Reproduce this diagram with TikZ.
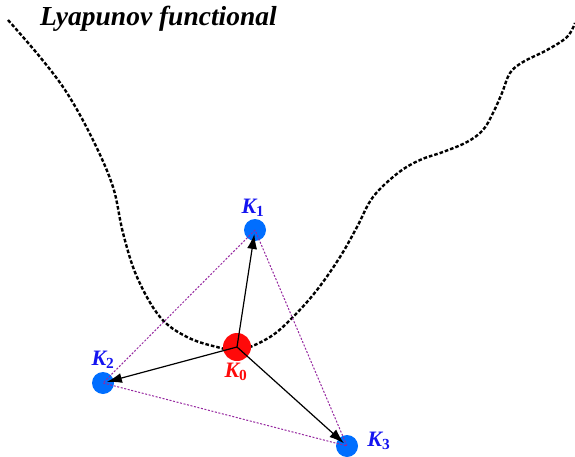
\documentclass[tikz,border=0pt]{standalone}
\usepackage{fontspec}
\setmainfont{Liberation Serif}
\usepackage{xcolor}
\usepackage{tikz}
\usetikzlibrary{positioning, arrows.meta}

\definecolor{dotblue}{RGB}{0,110,255}
\definecolor{labblue}{RGB}{20,20,240}
\definecolor{dotred}{RGB}{255,10,10}
\definecolor{simplex}{RGB}{150,40,160}

\newcommand{\kname}[1]{K\textsubscript{\upshape #1}}

\begin{document}
\begin{tikzpicture}[
  x=1pt, y=-1pt,
  node distance=2pt,
  pt/.style={circle, fill=dotblue, minimum size=22pt, inner sep=0pt},
  centre/.style={pt, fill=dotred, minimum size=28pt},
  klab/.style={inner sep=0pt, text=labblue, font=\fontsize{22}{24}\selectfont\bfseries\itshape},
  title/.style={inner sep=0pt, font=\fontsize{27.5}{30}\selectfont\bfseries\itshape},
  lyap/.style={line width=2.4pt, dash pattern=on 3.6pt off 2pt},
  edge/.style={simplex, line width=1pt, dash pattern=on 2pt off 1.6pt},
  arr/.style={-{Latex[length=15pt, width=10pt]}, line width=1.2pt, shorten >=4pt}
]
\useasboundingbox (0,0) rectangle (575,457);

% functional landscape
\draw[lyap] plot[smooth, tension=0.6] coordinates {
  (8,20) (40,57) (67,93) (93,140) (113,187) (123,233) (137,277) (160,317)
  (187,337) (217,347) (240,350) (270,337) (293,317) (317,290) (340,257)
  (357,227) (373,197) (398,173) (420,160) (443,152) (467,142) (483,130)
  (493,113) (502,93) (510,73) (523,62) (547,50) (567,37) (575,23)};
\node[title, anchor=west] (title) at (40,19) {Lyapunov functional};

% simplex points
\node[centre] (k0) at (237,347) {};
\node[pt] (k1) at (255,230) {};
\node[pt] (k2) at (103,383) {};
\node[pt] (k3) at (347,446) {};

\node[klab, above=of k1, xshift=-2pt] (k1lab) {\kname{1}};
\node[klab, below=of k0, text=dotred, xshift=-1pt] (k0lab) {\kname{0}};
\node[klab, above=3pt of k2] (k2lab) {\kname{2}};
\node[klab, right=9pt of k3, yshift=5pt] (k3lab) {\kname{3}};

\draw[edge] (k1.center) -- (k2.center) -- (k3.center) -- cycle;

\draw[arr] (k0.center) -- (k1.center);
\draw[arr] (k0.center) -- (k2.center);
\draw[arr] (k0.center) -- (k3.center);
\end{tikzpicture}
\end{document}
